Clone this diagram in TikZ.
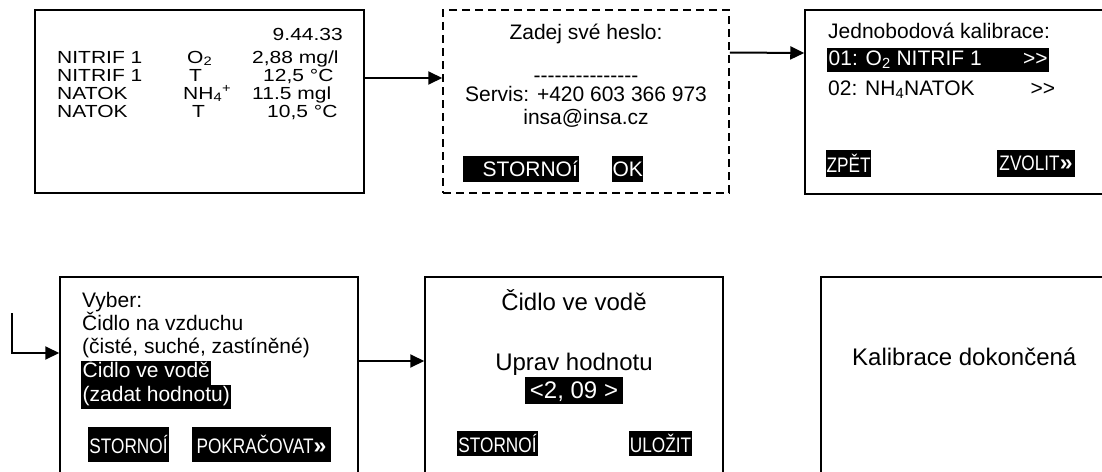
\documentclass[tikz,border=0pt]{standalone}
\usepackage{fontspec}
\setmainfont{Liberation Sans}
\newfontfamily\narrowfont[FakeStretch=0.82]{Liberation Sans}
\newfontfamily\widefont[FakeStretch=1.2]{Liberation Sans}
\usetikzlibrary{arrows.meta}

\begin{document}
\begin{tikzpicture}[x=1pt,y=-1pt,
  every node/.style={inner sep=0pt,font=\fontsize{21}{25}\selectfont},
  screen/.style={draw,line width=1.5pt},
  reading/.style={anchor=base west,font=\fontsize{17.5}{19}\widefont},
  big/.style={font=\fontsize{24}{28}\selectfont},
  btn/.style={fill=black,text=white,font=\fontsize{21}{25}\narrowfont},
  hl/.style={fill=black,text=white,inner xsep=1.5pt,text height=16pt,text depth=8pt},
  flow/.style={line width=2pt,-{Triangle[length=14pt,width=13pt]}}]
\useasboundingbox (0,0) rectangle (1102,471);
\clip (0,0) rectangle (1102,471);
\node[screen,minimum width=329pt,minimum height=183pt] (status) at (199.5,101.5) {};
\node[screen,dash pattern=on 8pt off 5pt,minimum width=286pt,minimum height=183pt] (login) at (586,101.5) {};
\node[screen,minimum width=301pt,minimum height=184pt] (calib) at (955.5,102) {};
\node[screen,minimum width=298pt,minimum height=200pt] (choose) at (209,377) {};
\node[screen,minimum width=298pt,minimum height=200pt] (water) at (574,377) {};
\node[screen,minimum width=298pt,minimum height=200pt] (done) at (970,377) {};
\draw[flow] ([yshift=23.5pt]status.east) -- ([yshift=23.5pt]login.west);
\draw[flow] ([yshift=49pt]login.east) -- ([yshift=49pt]calib.west);
\coordinate (entry) at (12,313);
\draw[flow] (entry) |- ([yshift=24pt]choose.west);
\draw[flow] ([yshift=16pt]choose.east) -- ([yshift=16pt]water.west);
\node[reading,anchor=base east] (clock) at (343,40) {9.44.33};
\node[reading] (ch1) at (57,63) {NITRIF 1};
\node[reading] (qt1) at (187,63) {O\textsubscript{2}};
\node[reading] (val1) at (252,63) {2,88 mg/l};
\node[reading] (ch2) at (57,81) {NITRIF 1};
\node[reading] (qt2) at (189,81) {T};
\node[reading] (val2) at (263,81) {12,5 °C};
\node[reading] (ch3) at (57,99) {NATOK};
\node[reading] (qt3) at (183,99) {NH\textsubscript{4}\textsuperscript{+}};
\node[reading] (val3) at (252,99) {11.5 mgl};
\node[reading] (ch4) at (57,117) {NATOK};
\node[reading] (qt4) at (192,117) {T};
\node[reading] (val4) at (267,117) {10,5 °C};
\node[anchor=base] (pwd) at (586,39) {Zadej své heslo:};
\node[anchor=base,text height=8pt,text depth=0pt] (pwdline) at (586,82) {\foreach \i in {1,...,15}{\mbox{-}}};
\node[anchor=base] (service) at (586,101) {Servis: +420 603 366 973};
\node[anchor=base] (mail) at (586,124) {insa@insa.cz};
\node[btn,font=\fontsize{21}{25}\selectfont,anchor=west,minimum width=116pt,minimum height=26pt] (cancel1) at (463,169) {\hspace*{18pt}STORNOí};
\node[btn,font=\fontsize{21}{25}\selectfont,anchor=west,minimum width=31pt,minimum height=26pt] (ok) at (612,169) {OK};
\node[anchor=base west] (title) at (828,38) {Jednobodová kalibrace:};
\node[hl,text height=17pt,text depth=7pt,anchor=base west] (item1) at (827,65) {\makebox[219pt][l]{01: O\textsubscript{2} NITRIF 1\hfill\mbox{>}\mbox{>}}};
\node[anchor=base west] (item2) at (828,95) {\makebox[227pt][l]{02: NH\textsubscript{4}NATOK\hfill\mbox{>}\mbox{>}}};
\node[btn,minimum width=45pt,minimum height=27pt] (back) at (848.5,163.5) {ZPĚT};
\node[btn,minimum width=78pt,minimum height=27pt] (select) at (1036,163.5) {ZVOLIT{\fontsize{23}{25}\fontspec{Liberation Sans}\bfseries »}};
\node[anchor=base west] (pick) at (82,307) {Vyber:};
\node[anchor=base west] (air) at (82,330) {Čidlo na vzduchu};
\node[anchor=base west] (airnote) at (82,353) {(čisté, suché, zastíněné)};
\node[hl,anchor=base west] (wet) at (81,377) {Čidlo ve vodě};
\node[hl,anchor=base west] (wetnote) at (81,401) {(zadat hodnotu)};
\node[btn,minimum width=81pt,minimum height=35pt] (cancel2) at (128.5,444.5) {STORNOÍ};
\node[btn,minimum width=139pt,minimum height=35pt] (next) at (261.5,444.5) {POKRAČOVAT{\fontsize{23}{25}\fontspec{Liberation Sans}\bfseries »}};
\node[big,anchor=base] (wettitle) at (574,310) {Čidlo ve vodě};
\node[big,anchor=base] (adjust) at (574,370) {Uprav hodnotu};
\node[hl,big,inner xsep=5pt,text height=21pt,text depth=6pt,anchor=base] (value) at (574,398) {<2, 09 >};
\node[btn,minimum width=81pt,minimum height=25pt] (cancel3) at (497.5,443.5) {STORNOÍ};
\node[btn,minimum width=63pt,minimum height=25pt] (save) at (660.5,443.5) {ULOŽIT};
\node[big,anchor=base west] (finish) at (852,365) {Kalibrace dokončená};
\end{tikzpicture}
\end{document}
